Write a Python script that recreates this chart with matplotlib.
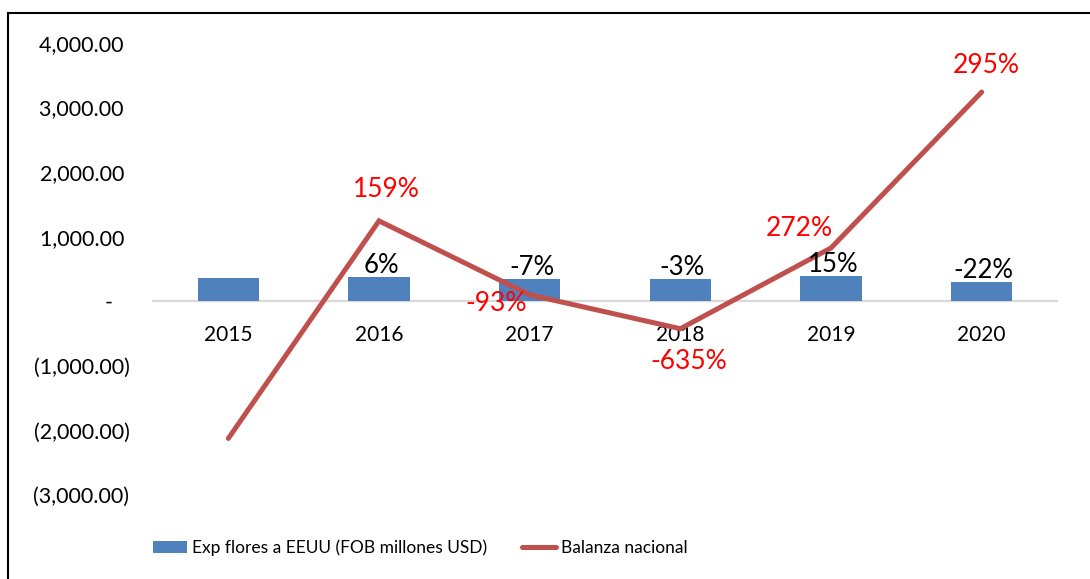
import numpy as np
import matplotlib.pyplot as plt
from matplotlib.lines import Line2D
from matplotlib.ticker import FuncFormatter

plt.rcParams['font.family'] = ['Lato', 'DejaVu Sans']

# datos
anios = ['2015', '2016', '2017', '2018', '2019', '2020']
exp_flores = [357, 378, 352, 341, 392, 305]
balanza = [-2124, 1245, 100, -425, 826, 3240]
var_exp = ['', '6%', '-7%', '-3%', '15%', '-22%']
var_balanza = ['', '159%', '-93%', '-635%', '272%', '295%']
# desplazamiento de las etiquetas rojas (pixeles)
offs_balanza = [(0, 0), (7, 31), (-34, -9), (8, -33), (-32, 19), (5, 27)]

fig = plt.figure(figsize=(10.9, 5.79), dpi=100)
ax = fig.add_axes([153 / 1090, 1 - 495 / 579, 904 / 1090, 452 / 579])

x = np.arange(len(anios))
barras = ax.bar(x, exp_flores, width=0.405, color='#4F81BD',
                label='Exp flores a EEUU (FOB millones USD)', zorder=2)
linea, = ax.plot(x, balanza, color='#C0504D', lw=3.6, solid_capstyle='round',
                 solid_joinstyle='miter', label='Balanza nacional', zorder=3)

for i in range(len(anios)):
    if var_exp[i]:
        ax.annotate(var_exp[i], (x[i], exp_flores[i]), xytext=(2, 4),
                    textcoords='offset pixels', ha='center', va='baseline',
                    fontsize=18.5, color='black', zorder=4)
    if var_balanza[i]:
        ax.annotate(var_balanza[i], (x[i], balanza[i]), xytext=offs_balanza[i],
                    textcoords='offset pixels', ha='center', va='center',
                    fontsize=19, color='#FF0000', zorder=4)

ax.set_xlim(-0.5, 5.5)
ax.set_ylim(-3000, 4000)
ax.set_yticks(np.arange(-3000, 4001, 1000))


def fmt(v, pos):
    if v == 0:
        return '-   '
    if v < 0:
        return '({:,.2f})'.format(-v)
    return '{:,.2f} '.format(v)


ax.yaxis.set_major_formatter(FuncFormatter(fmt))
ax.set_xticks(x)
ax.set_xticklabels(anios)
ax.tick_params(axis='y', length=0, pad=17, labelsize=15.5)
ax.tick_params(axis='x', length=0, pad=17, labelsize=15)

for s in ['top', 'right', 'left']:
    ax.spines[s].set_visible(False)
ax.spines['bottom'].set_position(('data', 0))
ax.spines['bottom'].set_color('#D9D9D9')
ax.spines['bottom'].set_linewidth(1.6)
ax.spines['bottom'].set_zorder(1)

ax.legend([barras, linea], [barras.get_label(), linea.get_label()],
          loc='center', bbox_to_anchor=(420 / 1090, 1 - 548 / 579),
          bbox_transform=fig.transFigure, ncol=2, frameon=False,
          fontsize=12.5, handlelength=2.0, handletextpad=0.25,
          columnspacing=2.0)

# marco del area del grafico
fig.add_artist(Line2D([8 / 1090, 1.01], [1 - 13 / 579, 1 - 13 / 579],
                      transform=fig.transFigure, color='black', lw=1.5))
fig.add_artist(Line2D([8 / 1090, 8 / 1090], [1 - 13 / 579, -0.01],
                      transform=fig.transFigure, color='black', lw=1.5))

fig.savefig('out.png', dpi=100)
